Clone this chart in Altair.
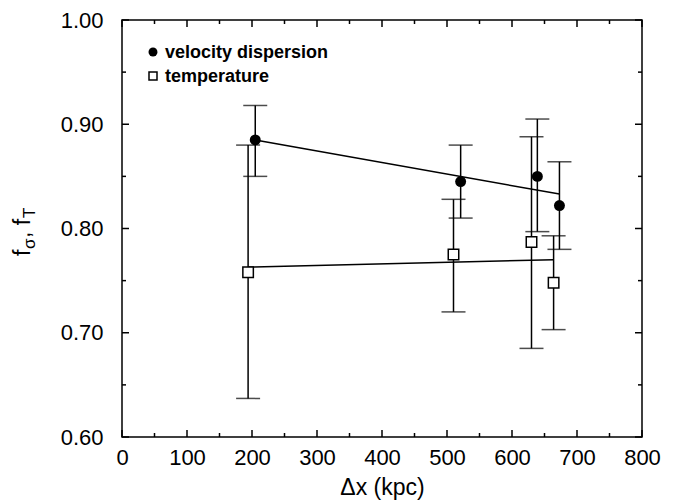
import altair as alt
import pandas as pd

# ---- data ----
vel_x = [205, 521, 639, 673]
vel_y = [0.885, 0.845, 0.850, 0.822]
vel_lo = [0.850, 0.810, 0.797, 0.780]
vel_hi = [0.918, 0.880, 0.905, 0.864]

tmp_x = [194, 510, 630, 664]
tmp_y = [0.758, 0.775, 0.787, 0.748]
tmp_lo = [0.637, 0.720, 0.685, 0.703]
tmp_hi = [0.880, 0.828, 0.888, 0.793]

vel_fit_x = [205, 673]
vel_fit_y = [0.885, 0.833]
tmp_fit_x = [194, 664]
tmp_fit_y = [0.763, 0.770]

x_major = [0, 100, 200, 300, 400, 500, 600, 700, 800]
x_minor = [50, 150, 250, 350, 450, 550, 650, 750]
y_major = [0.6, 0.7, 0.8, 0.9, 1.0]
y_minor = [0.65, 0.75, 0.85, 0.95]

legend_labels = ["velocity dispersion", "temperature"]

W, H = 520, 417
FONT = "Liberation Sans"
LBL = 22

vel = pd.DataFrame({"x": vel_x, "y": vel_y, "lo": vel_lo, "hi": vel_hi})
tmp = pd.DataFrame({"x": tmp_x, "y": tmp_y, "lo": tmp_lo, "hi": tmp_hi})
vfit = pd.DataFrame({"x": vel_fit_x, "y": vel_fit_y})
tfit = pd.DataFrame({"x": tmp_fit_x, "y": tmp_fit_y})

xs = alt.Scale(domain=[0, 800], nice=False, zero=False)
ys = alt.Scale(domain=[0.6, 1.0], nice=False, zero=False)

X = alt.X("x:Q", scale=xs, axis=alt.Axis(
    values=x_major, format="d", tickSize=0, domain=False, grid=False,
    labelFlush=False, labelOverlap=False,
    labelFontSize=LBL, labelFont=FONT, labelColor="black", labelPadding=10,
    title="Δx (kpc)", titleFont=FONT, titleFontSize=23, titleFontWeight="normal",
    titleColor="black", titlePadding=8))
Y = alt.Y("y:Q", scale=ys, axis=alt.Axis(
    values=y_major, format=".2f", tickSize=0, domain=False, grid=False,
    labelFlush=False, labelOverlap=False,
    labelFontSize=LBL, labelFont=FONT, labelColor="black", labelPadding=19,
    title=None))

vfit_line = alt.Chart(vfit).mark_line(color="black", strokeWidth=1.5).encode(x=X, y=Y)
tfit_line = alt.Chart(tfit).mark_line(color="black", strokeWidth=1.5).encode(x="x:Q", y="y:Q")


def errbars(df):
    bar = alt.Chart(df).mark_rule(color="black", strokeWidth=1.5).encode(
        x="x:Q", y="lo:Q", y2="hi:Q")
    cap_lo = alt.Chart(df).mark_tick(color="black", thickness=1.5, size=24,
                                     orient="horizontal").encode(x="x:Q", y="lo:Q")
    cap_hi = alt.Chart(df).mark_tick(color="black", thickness=1.5, size=24,
                                     orient="horizontal").encode(x="x:Q", y="hi:Q")
    return bar + cap_lo + cap_hi


vel_pts = alt.Chart(vel).mark_point(shape="circle", filled=True, color="black",
                                    size=120, opacity=1).encode(x="x:Q", y="y:Q")
tmp_pts = alt.Chart(tmp).mark_point(shape="square", filled=True, fill="white",
                                    stroke="black", strokeWidth=1.5, size=110,
                                    opacity=1).encode(x="x:Q", y="y:Q")


# ---- inward tick marks on all four sides ----
def yticks(vals, L):
    d = pd.DataFrame({"y": vals})
    left = alt.Chart(d).mark_rule(color="black", strokeWidth=1.5).encode(
        y="y:Q", x=alt.value(0), x2=alt.value(L))
    right = alt.Chart(d).mark_rule(color="black", strokeWidth=1.5).encode(
        y="y:Q", x=alt.value(W - L), x2=alt.value(W))
    return left + right


def xticks(vals, L):
    d = pd.DataFrame({"x": vals})
    bottom = alt.Chart(d).mark_rule(color="black", strokeWidth=1.5).encode(
        x="x:Q", y=alt.value(H), y2=alt.value(H - L))
    top = alt.Chart(d).mark_rule(color="black", strokeWidth=1.5).encode(
        x="x:Q", y=alt.value(0), y2=alt.value(L))
    return bottom + top


ticks = yticks(y_major, 7) + yticks(y_minor, 4) + xticks(x_major, 7) + xticks(x_minor, 4)

# ---- legend (inside plot, top-left) ----
leg_df = pd.DataFrame({"label": legend_labels})
leg_circle = alt.Chart(leg_df.iloc[[0]]).mark_point(
    shape="circle", filled=True, color="black", size=80, opacity=1).encode(
    x=alt.value(31), y=alt.value(32))
leg_square = alt.Chart(leg_df.iloc[[1]]).mark_point(
    shape="square", filled=True, fill="white", stroke="black", strokeWidth=1.5,
    size=64, opacity=1).encode(x=alt.value(31), y=alt.value(56))
leg_t1 = alt.Chart(leg_df.iloc[[0]]).mark_text(
    align="left", baseline="middle", font=FONT, fontSize=18, fontWeight="bold",
    color="black").encode(text="label:N", x=alt.value(43), y=alt.value(33))
leg_t2 = alt.Chart(leg_df.iloc[[1]]).mark_text(
    align="left", baseline="middle", font=FONT, fontSize=18, fontWeight="bold",
    color="black").encode(text="label:N", x=alt.value(43), y=alt.value(57))


# ---- y title  f_sigma, f_T  (rotated, with subscripts) ----
def ytext(s, size, xpix, ypix):
    return alt.Chart(pd.DataFrame({"t": [s]})).mark_text(
        align="left", baseline="alphabetic", angle=270, font=FONT, fontSize=size,
        color="black").encode(text="t:N", x=alt.value(xpix), y=alt.value(ypix))


base_x = -92
sub_x = -87
ytitle = (ytext("f", 23, base_x, 236) + ytext("σ", 17, sub_x, 229)
          + ytext(", f", 23, base_x, 218) + ytext("T", 17, sub_x, 198))

chart = alt.layer(
    vfit_line, tfit_line, errbars(vel), errbars(tmp), vel_pts, tmp_pts, ticks,
    leg_circle, leg_square, leg_t1, leg_t2, ytitle
).properties(
    width=W, height=H,
    autosize=alt.AutoSizeParams(type="none"),
    padding={"left": 114, "top": 12, "right": 24, "bottom": 75},
    background="white",
).configure_view(stroke="black", strokeWidth=1.5)

chart.save("out.html", embed_options={"renderer": "svg", "actions": False})
